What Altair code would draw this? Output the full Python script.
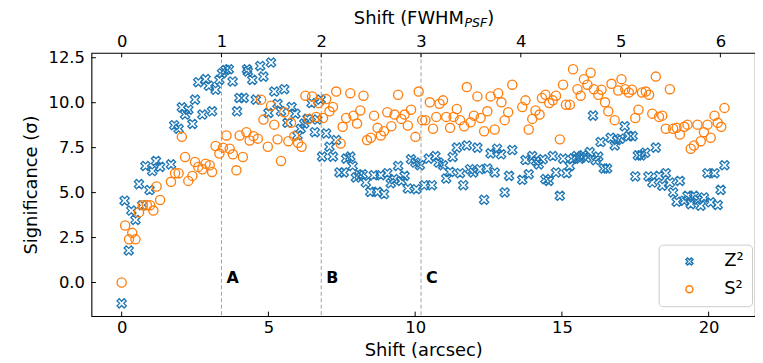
import altair as alt
import pandas as pd

# ---------------- data ----------------
z2_x = [0.0, 0.1, 0.24, 0.33, 0.47, 0.59, 0.7, 0.81, 0.95, 1.04, 1.17, 1.31, 1.68, 1.79, 1.94,
        2.05, 2.16, 2.27, 2.41, 2.5, 2.61, 2.75, 2.86, 2.97, 3.08, 3.2, 3.33, 3.42, 3.54, 3.65,
        3.78, 3.93, 4.01, 4.16, 4.27, 4.3, 4.45, 4.57, 4.72, 4.83, 5.0, 5.09, 5.2, 5.31, 5.43,
        5.54, 5.65, 5.79, 5.92, 5.99, 6.1, 6.22, 6.33, 6.47, 6.58, 6.67, 6.78, 6.83, 6.97, 7.08,
        7.2, 7.31, 7.42, 7.57, 7.65, 7.79, 7.87, 7.98, 8.1, 8.21, 8.32, 8.47, 8.59, 8.72, 8.83,
        8.94, 9.05, 9.17, 9.28, 9.42, 9.53, 9.64, 9.75, 9.86, 10.01, 10.04, 10.16, 10.31, 10.46,
        10.57, 10.69, 10.8, 10.95, 11.06, 11.19, 11.28, 11.42, 11.53, 11.64, 11.76, 11.87, 11.98,
        12.12, 12.2, 12.35, 12.46, 12.57, 12.71, 12.79, 12.93, 13.05, 13.2, 13.31, 13.65, 13.76,
        13.87, 13.99, 14.12, 14.21, 14.35, 14.44, 14.55, 14.69, 14.8, 14.93, 15.04, 15.16, 15.27,
        15.38, 15.5, 15.61, 15.72, 15.83, 15.95, 16.06, 16.15, 16.24, 16.32, 16.43, 16.54, 16.66,
        16.8, 16.88, 16.99, 17.14, 17.28, 17.41, 17.5, 17.59, 17.7, 17.84, 17.95, 18.08, 18.2,
        18.31, 18.42, 18.54, 18.68, 18.79, 18.91, 19.02, 19.17, 19.28, 19.39, 19.5, 19.62, 19.73,
        19.84, 19.96, 20.07, 20.2, 20.31, 20.41, 20.54]
z2_y = [-1.16, 4.55, 1.78, 4.0, 3.48, 5.47, 4.3, 6.48, 5.14, 6.2, 6.76, 6.43, 6.57, 8.75, 8.55,
        9.74, 9.34, 9.61, 8.82, 10.17, 11.14, 9.34, 11.31, 10.94, 9.52, 10.72, 11.27, 11.64, 11.82, 11.86,
        11.18, 9.52, 10.26, 10.26, 11.86, 11.73, 11.27, 10.17, 12.04, 11.45, 9.43, 12.23, 10.62, 9.94, 9.52,
        10.75, 8.88, 9.76, 9.39, 8.18, 8.55, 8.84, 9.1, 9.98, 8.36, 9.06, 10.17, 7.0, 8.29, 7.55,
        7.0, 7.92, 6.12, 6.12, 6.89, 7.0, 6.48, 5.84, 5.97, 6.02, 5.56, 5.04, 5.97, 5.04, 5.97,
        4.92, 6.08, 5.52, 5.75, 6.48, 5.65, 5.93, 5.23, 6.85, 6.67, 5.19, 6.52, 5.41, 6.89,
        5.41, 7.03, 6.67, 6.52, 5.78, 6.15, 6.98, 7.5, 6.08, 5.41, 7.62, 6.3, 6.12,
        7.5, 6.3, 4.6, 6.34, 7.18, 6.12, 7.44, 7.13, 5.01, 5.93, 7.37, 5.71, 6.81,
        6.02, 7.03, 6.76, 6.57, 6.85, 5.75, 5.65, 7.03, 6.12, 4.82, 6.89, 6.08, 6.48,
        6.89, 7.03, 6.89, 7.07, 6.94, 7.25, 9.28, 6.8, 7.0, 7.81, 6.34, 6.34, 8.05,
        7.62, 7.92, 8.0, 8.69, 8.14, 8.14, 5.9, 7.07, 7.07, 7.22, 5.9, 5.56, 7.5,
        5.93, 5.38, 6.08, 5.56, 5.01, 4.49, 5.65, 4.55, 4.82, 4.36, 4.82, 4.6, 4.27,
        4.73, 6.08, 4.46, 6.08, 4.31, 5.15, 6.52]

s2_x = [0.0, 0.12, 0.25, 0.36, 0.47, 0.59, 0.72, 0.86, 0.97, 1.08, 1.19, 1.31, 1.68, 1.82, 1.94,
        2.05, 2.16, 2.27, 2.41, 2.5, 2.61, 2.75, 2.86, 3.0, 3.08, 3.2, 3.33, 3.45, 3.57, 3.68,
        3.79, 3.91, 4.02, 4.13, 4.25, 4.36, 4.49, 4.64, 4.75, 4.83, 4.98, 5.09, 5.2, 5.31, 5.43,
        5.54, 5.68, 5.77, 5.88, 6.01, 6.13, 6.26, 6.37, 6.49, 6.63, 6.71, 6.86, 6.97, 7.08, 7.2,
        7.31, 7.46, 7.53, 7.65, 7.79, 7.9, 8.02, 8.13, 8.24, 8.36, 8.49, 8.6, 8.72, 8.83, 8.94,
        9.05, 9.19, 9.3, 9.42, 9.53, 9.64, 9.75, 9.86, 10.01, 10.12, 10.24, 10.35, 10.5, 10.61,
        10.72, 10.83, 10.95, 11.06, 11.19, 11.31, 11.42, 11.53, 11.67, 11.76, 11.89, 12.0, 12.12,
        12.23, 12.35, 12.46, 12.57, 12.71, 12.83, 12.94, 13.05, 13.17, 13.31, 13.65, 13.76, 13.87,
        13.99, 14.1, 14.24, 14.32, 14.44, 14.57, 14.69, 14.8, 14.93, 15.04, 15.14, 15.27, 15.38,
        15.53, 15.64, 15.75, 15.87, 15.98, 16.09, 16.24, 16.35, 16.47, 16.58, 16.69, 16.8, 16.92,
        17.03, 17.16, 17.28, 17.39, 17.5, 17.61, 17.73, 17.86, 17.97, 18.08, 18.2, 18.31, 18.42,
        18.54, 18.68, 18.79, 18.91, 19.02, 19.17, 19.28, 19.39, 19.5, 19.62, 19.73, 19.84, 19.96,
        20.07, 20.2, 20.31, 20.43, 20.54]
s2_y = [0.0, 3.17, 2.4, 2.76, 2.4, 3.9, 4.3, 4.3, 4.3, 4.0, 5.34, 4.59, 5.6, 6.08, 6.08,
        8.1, 6.98, 5.65, 5.93, 6.7, 6.43, 6.3, 6.61, 6.52, 6.15, 7.59, 7.17, 7.5, 8.18, 7.44,
        7.13, 6.24, 8.18, 6.98, 8.36, 7.9, 8.14, 8.0, 10.17, 9.06, 7.55, 9.83, 8.78, 7.96, 6.76,
        9.47, 7.86, 8.88, 8.14, 7.77, 7.55, 10.39, 9.1, 10.35, 9.21, 9.98, 9.15, 10.2, 9.52, 9.76,
        10.62, 7.73, 8.66, 9.15, 10.53, 9.28, 8.84, 9.57, 10.39, 7.92, 8.05, 9.28, 8.6, 8.18, 8.41,
        9.47, 8.69, 9.34, 10.44, 9.1, 9.34, 8.73, 9.61, 8.1, 10.62, 9.03, 9.03, 10.02, 8.55,
        9.21, 9.94, 10.13, 9.21, 8.6, 9.21, 9.65, 9.03, 8.69, 10.87, 8.91, 9.28, 10.35,
        9.15, 8.41, 9.52, 10.35, 8.51, 10.53, 10.02, 9.03, 9.47, 11.0, 9.76, 10.13, 8.51,
        9.1, 9.57, 9.34, 10.26, 10.44, 9.98, 10.13, 10.39, 7.96, 11.0, 9.89, 9.89, 11.86,
        10.75, 10.39, 11.31, 11.0, 11.67, 10.75, 10.44, 10.72, 10.02, 9.52, 11.05, 9.03, 10.68,
        11.31, 10.75, 10.57, 10.72, 9.15, 9.61, 10.57, 10.62, 10.44, 9.39, 11.45, 9.21, 9.28,
        8.55, 10.75, 8.55, 8.6, 8.23, 8.66, 8.78, 7.44, 7.62, 8.78, 7.86, 8.36, 8.78,
        8.05, 9.28, 8.88, 8.66, 9.71]

series_names = ["Z²", "S²"]
series_colors = ["#1f77b4", "#ff7f0e"]

fwhm_arcsec = 3.4            # 1 FWHM_PSF in arcsec
marker_fwhm = [1, 2, 3]
marker_labels = ["A", "B", "C"]
marker_label_y = 0.25

bottom_ticks = [0, 5, 10, 15, 20]
top_ticks = [0, 1, 2, 3, 4, 5, 6]
left_ticks = [0.0, 2.5, 5.0, 7.5, 10.0, 12.5]
x_domain = [-1.03, 21.58]
y_domain = [-1.87, 12.77]

# ---------------- styling ----------------
FONT = "DejaVu Sans"
W, H = 668, 265
X_PATH = ("M-1,0.538L-0.538,1L0,0.462L0.538,1L1,0.538L0.462,0L1,-0.538L0.538,-1"
          "L0,-0.462L-0.538,-1L-1,-0.538L-0.462,0Z")

xscale = alt.Scale(domain=x_domain, nice=False, zero=False)
yscale = alt.Scale(domain=y_domain, nice=False, zero=False)

pts = pd.DataFrame({
    "x": z2_x + s2_x,
    "y": z2_y + s2_y,
    "series": [series_names[0]] * len(z2_x) + [series_names[1]] * len(s2_x),
    "order": list(range(len(z2_x) + len(s2_x))),
})

legend = alt.Legend(
    title=None, orient="none", legendX=571, legendY=193,
    padding=8, symbolSize=50, symbolStrokeWidth=1.5, labelFontSize=18, labelFont=FONT,
    labelColor="black", rowPadding=10, labelOffset=26, symbolOffset=14,
    strokeColor="#cccccc", cornerRadius=4, fillColor="white",
)

common_axis = dict(ticks=False, domain=False, grid=False, labelFlush=False, labelOverlap=False,
                   labelFont=FONT, titleFont=FONT, labelColor="black", titleColor="black",
                   labelFontSize=16.5, titleFontSize=18, titleFontWeight="normal")

yaxis = alt.Axis(title="Significance (σ)", values=left_ticks, format=".1f",
                 labelPadding=7, titlePadding=8, **common_axis)

points = alt.Chart(pts).mark_point(filled=False, strokeWidth=1.35, size=85, opacity=1).encode(
    x=alt.X("x:Q", scale=xscale,
            axis=alt.Axis(title="Shift (arcsec)", values=bottom_ticks, labelPadding=3,
                          titlePadding=6, **common_axis)),
    y=alt.Y("y:Q", scale=yscale, axis=yaxis),
    color=alt.Color("series:N", scale=alt.Scale(domain=series_names, range=series_colors),
                    legend=legend),
    shape=alt.Shape("series:N", scale=alt.Scale(domain=series_names, range=[X_PATH, "circle"]),
                    legend=legend),
    order="order:Q",
)

marks_df = pd.DataFrame({"f": marker_fwhm, "lab": marker_labels,
                         "yv": [marker_label_y] * len(marker_fwhm)})

dashed = alt.Chart(marks_df).transform_calculate(a=f"datum.f*{fwhm_arcsec}").mark_rule(
    color="#a0a0a0", strokeDash=[4, 2.5], strokeWidth=1
).encode(x=alt.X("a:Q", scale=xscale, axis=None))

labels = alt.Chart(marks_df).transform_calculate(a=f"datum.f*{fwhm_arcsec}").mark_text(
    align="left", baseline="middle", dx=5, fontSize=16, fontWeight="bold", font=FONT,
    color="black"
).encode(
    x=alt.X("a:Q", scale=xscale, axis=None),
    y=alt.Y("yv:Q", scale=yscale, axis=None),
    text="lab:N",
)

bt = alt.Chart(pd.DataFrame({"v": bottom_ticks})).mark_rule(color="black", strokeWidth=1).encode(
    x=alt.X("v:Q", scale=xscale, axis=None), y=alt.value(H), y2=alt.value(H - 4.5))

lt = alt.Chart(pd.DataFrame({"v": left_ticks})).mark_rule(color="black", strokeWidth=1).encode(
    y=alt.Y("v:Q", scale=yscale, axis=None), x=alt.value(0), x2=alt.value(4.5))

tt = alt.Chart(pd.DataFrame({"f": top_ticks})).transform_calculate(
    a=f"datum.f*{fwhm_arcsec}"
).mark_rule(color="black", strokeWidth=1).encode(
    x=alt.X("a:Q", scale=xscale,
            axis=alt.Axis(orient="top", values=[t * fwhm_arcsec for t in top_ticks],
                          labelExpr=f"format(datum.value/{fwhm_arcsec}, '.0f')",
                          title=None, labelPadding=3, **common_axis)),
    y=alt.value(0), y2=alt.value(4.5))

one = pd.DataFrame({"k": [0]})
t_main = alt.Chart(one).mark_text(text="Shift (FWHM", align="right", baseline="alphabetic",
                                  fontSize=18, font=FONT, color="black").encode(
    x=alt.value(375), y=alt.value(-29.5))
t_sub = alt.Chart(one).mark_text(text="PSF", align="left", baseline="alphabetic",
                                 fontSize=12.6, fontStyle="italic", font=FONT,
                                 color="black").encode(
    x=alt.value(375.5), y=alt.value(-26))
t_close = alt.Chart(one).mark_text(text=")", align="left", baseline="alphabetic",
                                   fontSize=18, font=FONT, color="black").encode(
    x=alt.value(398.5), y=alt.value(-29.5))

chart = alt.layer(dashed, labels, points, bt, lt, tt, t_main, t_sub, t_close).resolve_axis(
    x="independent", y="independent"
).properties(
    width=W, height=H,
    autosize=alt.AutoSizeParams(type="none"),
    padding={"left": 84, "top": 44, "right": 0, "bottom": 46},
).configure(
    font=FONT
).configure_view(
    stroke="black", strokeWidth=1.1
)

chart.save("out.html", embed_options={"renderer": "svg", "actions": False})
